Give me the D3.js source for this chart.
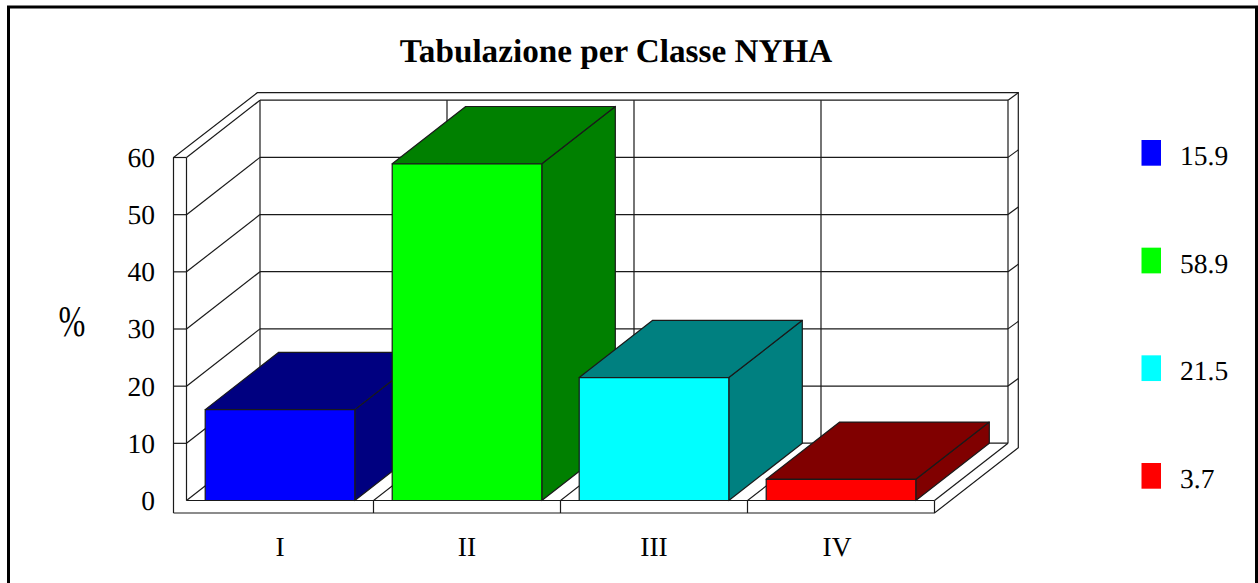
<!DOCTYPE html>
<html>
<head>
<meta charset="utf-8">
<title>Tabulazione per Classe NYHA</title>
<script src="https://cdn.jsdelivr.net/npm/d3@7/dist/d3.min.js"></script>
<style>
    html, body { margin: 0; padding: 0; background: #fff; overflow: hidden; }
    svg { display: block; }
    text { font-family: "Liberation Serif", serif; fill: #000; text-rendering: geometricPrecision; }
</style>
</head>
<body>
<svg id="renderer" width="1258" height="583"></svg>
<script>
const categories = ['I', 'II', 'III', 'IV'];
const values = [15.9, 58.9, 21.5, 3.7];
const legendLabels = ['15.9', '58.9', '21.5', '3.7'];
const frontColors = ['#0000ff', '#00ff00', '#00ffff', '#ff0000'];
const shadeColors = ['#000080', '#008000', '#008080', '#800000'];
const yTicks = [0, 10, 20, 30, 40, 50, 60];

const DEPTH_X = 73.5, DEPTH_Y = -57.3;
const LINE = '#1a1a1a';
const LINE_W = 1.2;

const root = d3.select('#renderer');

const x = d3.scaleBand().domain(categories)
    .range([186.5, 934.5]).paddingInner(0.2).paddingOuter(0.1);
const y = d3.scaleLinear().domain([0, 60]).range([500.5, 157.5]);
const legendY = d3.scalePoint().domain(categories).range([153, 476]);

const line = d3.line();

function poly(parent, pts, fill) {
    return parent.append('path').attr('d', line(pts) + 'Z')
        .attr('fill', fill).attr('stroke', LINE).attr('stroke-width', LINE_W)
        .attr('stroke-linejoin', 'round');
}

function seg(parent, pts) {
    return parent.append('path').attr('d', line(pts))
        .attr('fill', 'none').attr('stroke', LINE).attr('stroke-width', LINE_W);
}

// outer frame of the picture
root.append('rect')
    .attr('x', 8.5).attr('y', 7).attr('width', 1248).attr('height', 600)
    .attr('fill', 'none').attr('stroke', '#000').attr('stroke-width', 3);

root.append('text').attr('x', 616).attr('y', 61.5)
    .attr('text-anchor', 'middle').attr('font-weight', 'bold').attr('font-size', 33.2)
    .text('Tabulazione per Classe NYHA');

const g = root.append('g');

const x0 = x.range()[0], x1 = x.range()[1];
const y0 = y(0), yTop = y(60);

// outer shell of the box
seg(g, [[173.5, 513], [173.5, yTop], [257.3, 92.7], [1018.3, 92.7], [1018.3, 447.7], [934.5, 513], [173.5, 513]]);
seg(g, [[x1, y0], [x1, 513]]);
seg(g, [[x0, y0], [x1, y0]]);

// walls: left + back gridlines
yTicks.forEach(function (t) {
    seg(g, [[x0, y(t)], [x0 + DEPTH_X, y(t) + DEPTH_Y]]);
    seg(g, [[x0 + DEPTH_X, y(t) + DEPTH_Y], [x1 + DEPTH_X, y(t) + DEPTH_Y]]);
    if (t > 0) seg(g, [[x1 + DEPTH_X, y(t) + DEPTH_Y], [1018.3, y(t) + DEPTH_Y - 7.5]]);
});
seg(g, [[x0 + DEPTH_X, y0 + DEPTH_Y], [x0 + DEPTH_X, yTop + DEPTH_Y]]);
seg(g, [[x1 + DEPTH_X, y0 + DEPTH_Y], [x1 + DEPTH_X, yTop + DEPTH_Y]]);
seg(g, [[x1, y0], [x1 + DEPTH_X, y0 + DEPTH_Y]]);

// category separators: floor, back wall, front strip
categories.slice(1).forEach(function (c) {
    const sx = x(c) - x.step() * x.paddingInner() / 2;
    seg(g, [[sx, 513], [sx, y0], [sx + DEPTH_X, y0 + DEPTH_Y], [sx + DEPTH_X, yTop + DEPTH_Y]]);
});

// bars
categories.forEach(function (c, i) {
    const bx = x(c), bw = x.bandwidth(), by = y(values[i]);
    poly(g, [[bx + bw, by], [bx + bw + DEPTH_X, by + DEPTH_Y], [bx + bw + DEPTH_X, y0 + DEPTH_Y], [bx + bw, y0]], shadeColors[i]);
    poly(g, [[bx, by], [bx + DEPTH_X, by + DEPTH_Y], [bx + bw + DEPTH_X, by + DEPTH_Y], [bx + bw, by]], shadeColors[i]);
    poly(g, [[bx, by], [bx + bw, by], [bx + bw, y0], [bx, y0]], frontColors[i]);
});

// y axis
const yAxis = g.append('g').attr('transform', 'translate(' + x0 + ',0)')
    .call(d3.axisLeft(y).tickValues(yTicks).tickSize(13).tickSizeOuter(0).tickPadding(18.5).offset(0));
yAxis.select('.domain').attr('stroke', LINE).attr('stroke-width', LINE_W);
yAxis.selectAll('line').attr('stroke', LINE).attr('stroke-width', LINE_W);
yAxis.selectAll('.tick').filter(function (d) { return d === 0; }).select('line').remove();
yAxis.selectAll('text').attr('font-size', 27.5).attr('dy', '0.34em');
yAxis.attr('font-family', null).attr('font-size', null);

// x axis
const xAxis = g.append('g').attr('transform', 'translate(0,513)')
    .call(d3.axisBottom(x).tickSize(0).tickPadding(0).offset(0));
xAxis.select('.domain').remove();
xAxis.attr('font-family', null).attr('font-size', null);
xAxis.selectAll('text').attr('font-size', 27.5).attr('y', 42.7).attr('dy', 0);
// the last label sits a little left of its band in the original
xAxis.selectAll('.tick').filter(function (d) { return d === 'IV'; }).select('text').attr('dx', -4);

// axis title
g.append('text').attr('transform', 'translate(72,336) scale(0.85,1.15)')
    .attr('text-anchor', 'middle').attr('font-size', 38).text('%');

// legend
const legend = root.append('g').selectAll('g').data(categories).join('g')
    .attr('transform', function (d) { return 'translate(0,' + legendY(d) + ')'; });
legend.append('rect').attr('x', 1141.5).attr('y', -13).attr('width', 19.5).attr('height', 25.7)
    .attr('fill', function (d, i) { return frontColors[i]; });
legend.append('text').attr('x', 1180).attr('y', 12).attr('font-size', 27.5)
    .text(function (d, i) { return legendLabels[i]; });
</script>
</body>
</html>
